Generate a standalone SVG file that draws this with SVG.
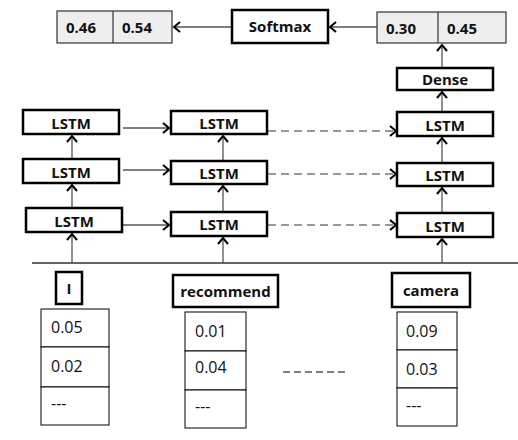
<svg xmlns="http://www.w3.org/2000/svg" width="518" height="440" viewBox="0 0 518 440">
<style>
.thick{fill:#fff;stroke:#000;stroke-width:2.5}
.outbox{fill:#eeeeee;stroke:#333;stroke-width:1.2}
.cell{fill:#fff;stroke:#000;stroke-width:1}
.lbl{font-family:"Open Sans","Liberation Sans",sans-serif;font-weight:bold;font-size:15px;fill:#111}
.num{font-family:"Open Sans","Liberation Sans",sans-serif;font-size:16px;fill:#111}
.conn{fill:none;stroke:#555;stroke-width:1.3}
.dash{fill:none;stroke:#777;stroke-width:1.3;stroke-dasharray:8,5}
</style>
<defs>
<marker id="ah" markerUnits="userSpaceOnUse" markerWidth="10" markerHeight="12" refX="7" refY="6" orient="auto">
<path d="M1,1 L7,6 L1,11" fill="none" stroke="#000" stroke-width="2"/>
</marker>
</defs>
<g id="connectors">
<line class="conn" x1="377" y1="27" x2="330" y2="27" marker-end="url(#ah)"/>
<line class="conn" x1="232" y1="27" x2="174" y2="27" marker-end="url(#ah)"/>
<line class="conn" x1="442" y1="68" x2="442" y2="45" marker-end="url(#ah)"/>
<line class="conn" x1="442" y1="112" x2="442" y2="92" marker-end="url(#ah)"/>
<line class="conn" x1="442" y1="163" x2="442" y2="138" marker-end="url(#ah)"/>
<line class="conn" x1="442" y1="213" x2="442" y2="188" marker-end="url(#ah)"/>
<line class="conn" x1="442" y1="263" x2="442" y2="239" marker-end="url(#ah)"/>
<line class="conn" x1="223" y1="161" x2="223" y2="136" marker-end="url(#ah)"/>
<line class="conn" x1="223" y1="212" x2="223" y2="186" marker-end="url(#ah)"/>
<line class="conn" x1="223" y1="263" x2="223" y2="238" marker-end="url(#ah)"/>
<line class="conn" x1="72" y1="159" x2="72" y2="136" marker-end="url(#ah)"/>
<line class="conn" x1="72" y1="208" x2="72" y2="185" marker-end="url(#ah)"/>
<line class="conn" x1="72" y1="263" x2="72" y2="234" marker-end="url(#ah)"/>
<line class="conn" x1="123" y1="128" x2="169" y2="128" marker-end="url(#ah)"/>
<line class="conn" x1="123" y1="170" x2="169" y2="170" marker-end="url(#ah)"/>
<line class="conn" x1="123" y1="225" x2="169" y2="225" marker-end="url(#ah)"/>
<line class="dash" x1="268" y1="131" x2="396" y2="131" marker-end="url(#ah)"/>
<line class="dash" x1="268" y1="174" x2="396" y2="174" marker-end="url(#ah)"/>
<line class="dash" x1="268" y1="225" x2="396" y2="225" marker-end="url(#ah)"/>
<line x1="32" y1="263" x2="518" y2="263" stroke="#333" stroke-width="1.3"/>
</g>
<g id="out-left">
<rect class="outbox" x="57" y="11" width="115" height="32"/>
<line x1="113" y1="11" x2="113" y2="43" stroke="#333" stroke-width="1.2"/>
<text class="lbl" x="66" y="33" font-size="16">0.46</text>
<text class="lbl" x="122" y="33" font-size="16">0.54</text>
</g>
<g id="softmax">
<rect class="thick" x="232" y="10" width="96" height="33"/>
<text class="lbl" x="280" y="32" text-anchor="middle">Softmax</text>
</g>
<g id="out-right">
<rect class="outbox" x="377" y="12" width="129" height="31"/>
<line x1="438" y1="12" x2="438" y2="43" stroke="#333" stroke-width="1.2"/>
<text class="lbl" x="386" y="34" font-size="16">0.30</text>
<text class="lbl" x="447" y="34" font-size="16">0.45</text>
</g>
<g id="dense">
<rect class="thick" x="397" y="68" width="96" height="22"/>
<text class="lbl" x="445" y="85" text-anchor="middle">Dense</text>
</g>
<g id="lstm-1-3"><rect class="thick" x="23" y="110" width="96" height="24"/><text class="lbl" x="71" y="129" text-anchor="middle">LSTM</text></g>
<g id="lstm-1-2"><rect class="thick" x="23" y="159" width="96" height="24"/><text class="lbl" x="71" y="178" text-anchor="middle">LSTM</text></g>
<g id="lstm-1-1"><rect class="thick" x="26" y="208" width="96" height="24"/><text class="lbl" x="74" y="227" text-anchor="middle">LSTM</text></g>
<g id="lstm-2-3"><rect class="thick" x="171" y="111" width="96" height="23"/><text class="lbl" x="219" y="129" text-anchor="middle">LSTM</text></g>
<g id="lstm-2-2"><rect class="thick" x="171" y="161" width="96" height="23"/><text class="lbl" x="219" y="179" text-anchor="middle">LSTM</text></g>
<g id="lstm-2-1"><rect class="thick" x="171" y="212" width="96" height="24"/><text class="lbl" x="219" y="230" text-anchor="middle">LSTM</text></g>
<g id="lstm-3-3"><rect class="thick" x="397" y="112" width="96" height="24"/><text class="lbl" x="445" y="131" text-anchor="middle">LSTM</text></g>
<g id="lstm-3-2"><rect class="thick" x="397" y="163" width="96" height="23"/><text class="lbl" x="445" y="181" text-anchor="middle">LSTM</text></g>
<g id="lstm-3-1"><rect class="thick" x="397" y="213" width="96" height="24"/><text class="lbl" x="445" y="232" text-anchor="middle">LSTM</text></g>
<g id="word-i"><rect class="thick" x="56" y="272" width="26" height="32"/><text class="lbl" x="69" y="294" text-anchor="middle" font-size="16">I</text></g>
<g id="word-recommend"><rect class="thick" x="173" y="275" width="105" height="32"/><text class="lbl" x="225.500" y="297" text-anchor="middle">recommend</text></g>
<g id="word-camera"><rect class="thick" x="392" y="273" width="78" height="34"/><text class="lbl" x="431" y="296" text-anchor="middle">camera</text></g>
<g id="vec-i">
<rect class="cell" x="41" y="309" width="68" height="38"/>
<rect class="cell" x="41" y="347" width="68" height="40"/>
<rect class="cell" x="41" y="387" width="68" height="38"/>
<text class="num" x="51" y="333">0.05</text>
<text class="num" x="51" y="372">0.02</text>
<text class="num" x="51" y="409">---</text>
</g>
<g id="vec-recommend">
<rect class="cell" x="185" y="312" width="61" height="39"/>
<rect class="cell" x="185" y="351" width="61" height="39"/>
<rect class="cell" x="185" y="390" width="61" height="38"/>
<text class="num" x="195" y="337">0.01</text>
<text class="num" x="195" y="373">0.04</text>
<text class="num" x="195" y="412">---</text>
</g>
<g id="vec-camera">
<rect class="cell" x="397" y="312" width="60" height="38"/>
<rect class="cell" x="397" y="350" width="60" height="38"/>
<rect class="cell" x="397" y="388" width="60" height="38"/>
<text class="num" x="406" y="337">0.09</text>
<text class="num" x="406" y="375">0.03</text>
<text class="num" x="406" y="411">---</text>
</g>
<g id="ellipsis">
<line x1="283" y1="372" x2="345" y2="372" stroke="#000" stroke-width="1.2" stroke-dasharray="7,4"/>
</g>
</svg>
